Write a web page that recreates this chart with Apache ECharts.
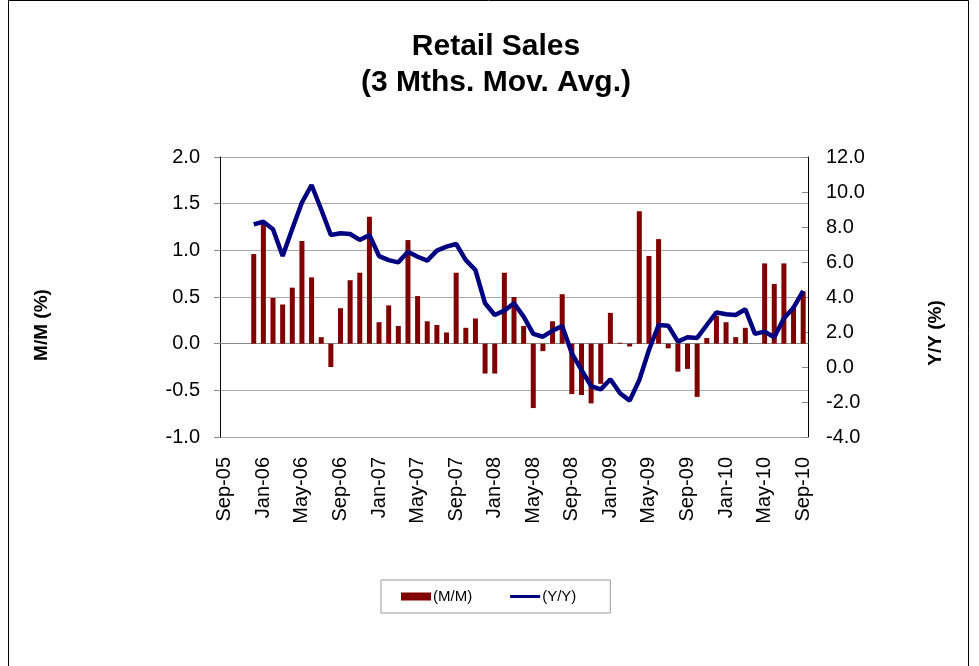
<!doctype html>
<html lang="en">
  <head>
    <meta charset="UTF-8" />
    <title>Retail Sales</title>
    <script src="https://fastly.jsdelivr.net/npm/echarts@6/dist/echarts.min.js"></script>
    <style type="text/css">
      * {
        margin: 0;
        padding: 0;
      }
      html,
      body,
      #chart {
        width: 100%;
        height: 100%;
        overflow: hidden;
        background: #fff;
      }
    </style>
  </head>
  <body>
    <div id="chart"></div>
  </body>
  <script>
    // monthly categories, Sep-05 .. Sep-10
    const months = [
      'Sep-05', 'Oct-05', 'Nov-05', 'Dec-05',
      'Jan-06', 'Feb-06', 'Mar-06', 'Apr-06', 'May-06', 'Jun-06', 'Jul-06', 'Aug-06', 'Sep-06', 'Oct-06', 'Nov-06', 'Dec-06',
      'Jan-07', 'Feb-07', 'Mar-07', 'Apr-07', 'May-07', 'Jun-07', 'Jul-07', 'Aug-07', 'Sep-07', 'Oct-07', 'Nov-07', 'Dec-07',
      'Jan-08', 'Feb-08', 'Mar-08', 'Apr-08', 'May-08', 'Jun-08', 'Jul-08', 'Aug-08', 'Sep-08', 'Oct-08', 'Nov-08', 'Dec-08',
      'Jan-09', 'Feb-09', 'Mar-09', 'Apr-09', 'May-09', 'Jun-09', 'Jul-09', 'Aug-09', 'Sep-09', 'Oct-09', 'Nov-09', 'Dec-09',
      'Jan-10', 'Feb-10', 'Mar-10', 'Apr-10', 'May-10', 'Jun-10', 'Jul-10', 'Aug-10', 'Sep-10'
    ];

    // M/M (%), 3 month moving average, left axis
    const mm = [
      null, null, null, 0.96,
      1.29, 0.49, 0.42, 0.60, 1.10, 0.71, 0.07, -0.25, 0.38, 0.68, 0.76, 1.36,
      0.23, 0.41, 0.19, 1.11, 0.51, 0.24, 0.20, 0.12, 0.76, 0.17, 0.27, -0.32,
      -0.32, 0.76, 0.50, 0.19, -0.69, -0.08, 0.24, 0.53, -0.54, -0.55, -0.64, -0.43,
      0.33, 0.01, -0.03, 1.42, 0.94, 1.12, -0.05, -0.30, -0.27, -0.57, 0.06, 0.30,
      0.23, 0.07, 0.17, 0.00, 0.86, 0.64, 0.86, 0.40, 0.56
    ];

    // Y/Y (%), right axis
    const yy = [
      null, null, null, 8.15,
      8.30, 7.87, 6.34, 7.90, 9.40, 10.40, 9.00, 7.54, 7.64, 7.60, 7.26, 7.54,
      6.34, 6.11, 5.98, 6.59, 6.30, 6.08, 6.65, 6.88, 7.03, 6.11, 5.54, 3.64,
      2.97, 3.22, 3.64, 2.88, 1.89, 1.73, 2.08, 2.34, 0.78, -0.17, -1.09, -1.28,
      -0.70, -1.50, -1.92, -0.74, 0.97, 2.40, 2.36, 1.45, 1.70, 1.66, 2.40, 3.12,
      3.01, 2.97, 3.30, 1.89, 2.02, 1.70, 2.78, 3.39, 4.35
    ];

    const font = 'Liberation Sans, Arial, sans-serif';

    const chart = echarts.init(document.getElementById('chart'));
    chart.setOption({
      animation: false,
      backgroundColor: '#fff',
      title: {
        text: 'Retail Sales\n(3 Mths. Mov. Avg.)',
        left: 491,
        textAlign: 'center',
        top: 24,
        textStyle: {
          fontFamily: font,
          fontSize: 30,
          fontWeight: 'bold',
          color: '#000',
          lineHeight: 36
        }
      },
      grid: {
        left: 220,
        right: 171,
        top: 157,
        bottom: 229
      },
      legend: {
        left: 381,
        top: 580,
        padding: [9, 34, 9, 20],
        itemGap: 38,
        itemWidth: 30,
        itemHeight: 8,
        borderColor: '#999',
        borderWidth: 1,
        textStyle: { fontFamily: font, fontSize: 15, color: '#000', padding: [0, 0, 0, -3] },
        data: [
          { name: '(M/M)', icon: 'rect' },
          { name: '(Y/Y)', icon: 'path://M0,0 H30 V3 H0 Z' }
        ]
      },
      xAxis: {
        type: 'category',
        data: months,
        boundaryGap: true,
        axisLine: { lineStyle: { color: '#888' } },
        axisTick: { show: false },
        axisLabel: {
          interval: 3,
          rotate: 90,
          margin: 20,
          fontFamily: font,
          fontSize: 20,
          color: '#000'
        }
      },
      yAxis: [
        {
          type: 'value',
          min: -1,
          max: 2,
          interval: 0.5,
          axisLine: { show: true, lineStyle: { color: '#000' } },
          axisTick: { show: true, length: 6, lineStyle: { color: '#888' } },
          axisLabel: {
            formatter: (v) => v.toFixed(1),
            margin: 20,
            fontFamily: font,
            fontSize: 20,
            color: '#000'
          },
          splitLine: { lineStyle: { color: '#aaa', width: 1 } }
        },
        {
          type: 'value',
          min: -4,
          max: 12,
          interval: 2,
          axisLine: { show: true, lineStyle: { color: '#000' } },
          axisTick: { show: true, inside: true, length: 6, lineStyle: { color: '#888' } },
          axisLabel: {
            formatter: (v) => v.toFixed(1),
            margin: 18,
            fontFamily: font,
            fontSize: 20,
            color: '#000'
          },
          splitLine: { show: false }
        }
      ],
      graphic: [
        {
          type: 'rect',
          silent: true,
          shape: { x: 8.5, y: 0.5, width: 960, height: 700 },
          style: { fill: 'none', stroke: '#000', lineWidth: 1 }
        },
        {
          type: 'text',
          silent: true,
          x: 42,
          y: 325,
          rotation: Math.PI / 2,
          style: {
            text: 'M/M (%)',
            font: 'bold 19px ' + font,
            fill: '#000',
            align: 'center',
            verticalAlign: 'middle'
          }
        },
        {
          type: 'text',
          silent: true,
          x: 936,
          y: 333,
          rotation: Math.PI / 2,
          style: {
            text: 'Y/Y (%)',
            font: 'bold 19px ' + font,
            fill: '#000',
            align: 'center',
            verticalAlign: 'middle'
          }
        }
      ],
      series: [
        {
          name: '(M/M)',
          type: 'bar',
          data: mm,
          barWidth: 5,
          itemStyle: { color: '#800000' }
        },
        {
          name: '(Y/Y)',
          type: 'line',
          yAxisIndex: 1,
          data: yy,
          symbol: 'none',
          connectNulls: false,
          lineStyle: { color: '#000080', width: 4.5 },
          itemStyle: { color: '#000080' }
        }
      ]
    });
  </script>
</html>
